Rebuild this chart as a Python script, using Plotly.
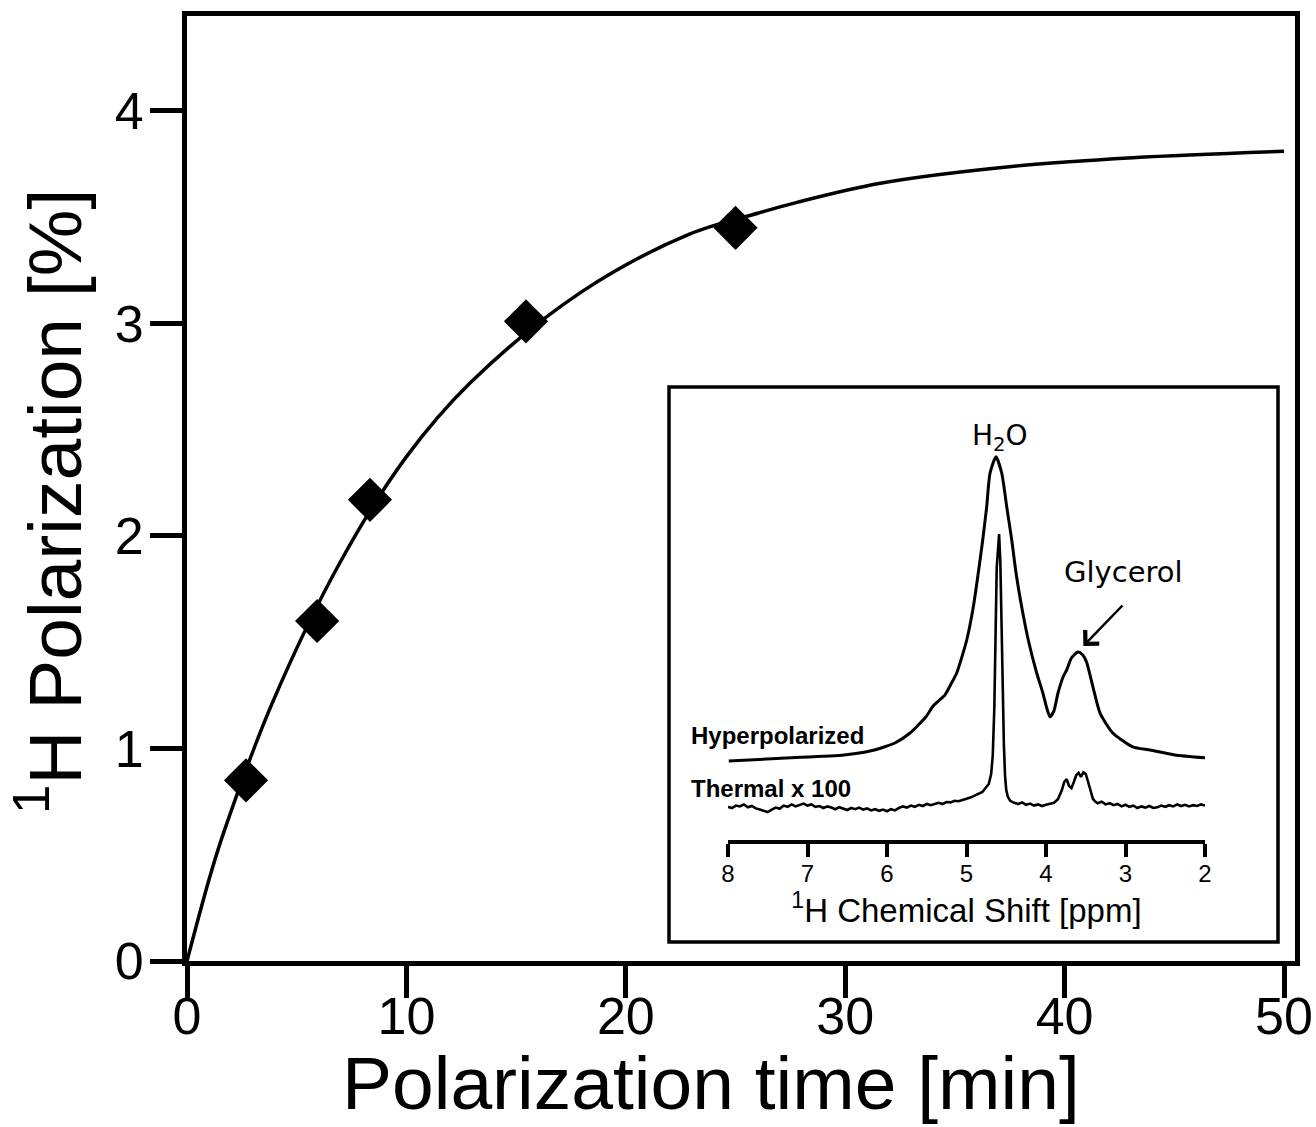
import plotly.graph_objects as go

# ---------------- main data ----------------
time_pts = [2.69, 5.93, 8.34, 15.45, 25.0]
pol_pts = [0.85, 1.60, 2.17, 3.01, 3.45]

fit_time = [0, 1.05, 1.69, 3.87, 7.0, 9.98, 12.9, 18.0, 22.9, 26.05, 27.8, 31.6, 37.7, 43.1, 50.0]
fit_pol = [0, 0.40, 0.61, 1.21, 1.88, 2.37, 2.72, 3.15, 3.42, 3.52, 3.57, 3.66, 3.74, 3.78, 3.81]

x_ticks = [0, 10, 20, 30, 40, 50]
y_ticks = [0, 1, 2, 3, 4]

# ---------------- inset data (ppm, a.u.) ----------------
hyper_ppm = [7.99, 7.27, 6.54, 6.20, 5.90, 5.71, 5.51, 5.42, 5.35, 5.27, 5.20, 5.123, 4.997, 4.914,
             4.852, 4.796, 4.746, 4.704, 4.629, 4.557, 4.494, 4.431, 4.377, 4.306, 4.223, 4.117,
             4.04, 3.991, 3.95, 3.90, 3.849, 3.78, 3.74, 3.68, 3.60, 3.54, 3.49, 3.41, 3.32, 3.16,
             2.91, 2.69, 2.38, 1.975]
hyper_int = [19.75, 20.5, 21.25, 22.3, 24.25, 26.75, 30.8, 33.5, 34.8, 36.3, 38.8, 41.75, 50.0, 58.3,
             66.75, 75.0, 83.3, 91.75, 95.8, 91.75, 83.3, 75.0, 66.75, 58.3, 50.0, 41.75,
             36.8, 33.0, 30.8, 32.3, 36.75, 41.0, 42.5, 45.5, 47.0, 46.3, 44.5, 38.3, 31.7, 26.75,
             23.3, 22.5, 21.25, 20.5]

thermal_ppm = [8.00, 7.95, 7.90, 7.85, 7.80, 7.75, 7.70, 7.65, 7.60, 7.55, 7.50, 7.45, 7.40, 7.35,
               7.30, 7.25, 7.20, 7.15, 7.10, 7.05, 7.00, 6.95, 6.90, 6.85, 6.80, 6.75, 6.70, 6.65,
               6.60, 6.55, 6.50, 6.45, 6.40, 6.35, 6.30, 6.25, 6.20, 6.15, 6.10, 6.05, 6.00, 5.95,
               5.90, 5.85, 5.80, 5.75, 5.70, 5.65, 5.60, 5.55, 5.50, 5.45, 5.40, 5.35, 5.30, 5.25,
               5.20, 5.15, 5.10, 5.05, 5.00, 4.95, 4.90, 4.85, 4.80, 4.76, 4.72, 4.69, 4.67, 4.65,
               4.635, 4.62, 4.59, 4.575, 4.56, 4.545, 4.53, 4.515, 4.50, 4.48, 4.45, 4.40, 4.35,
               4.30, 4.25, 4.20, 4.15, 4.10, 4.05, 4.00, 3.95, 3.90, 3.85, 3.80, 3.77, 3.74, 3.71,
               3.68, 3.65, 3.62, 3.59, 3.56, 3.53, 3.50, 3.47, 3.44, 3.41, 3.38, 3.35, 3.30, 3.25,
               3.20, 3.15, 3.10, 3.05, 3.00, 2.95, 2.90, 2.85, 2.80, 2.75, 2.70, 2.65, 2.60, 2.55,
               2.50, 2.45, 2.40, 2.35, 2.30, 2.25, 2.20, 2.15, 2.10, 2.05, 2.00]
thermal_int = [8.3, 8.0, 8.6, 8.4, 8.9, 8.2, 8.5, 7.9, 7.6, 7.2, 7.0, 7.6, 8.1, 7.8,
               8.6, 8.3, 8.9, 8.4, 8.7, 9.1, 8.6, 8.9, 8.3, 8.5, 8.0, 8.4, 8.1, 7.7,
               8.2, 7.9, 7.5, 8.0, 7.7, 8.1, 7.6, 7.9, 7.4, 7.7, 7.3, 7.6, 7.2, 7.7,
               7.4, 8.0, 8.4, 8.1, 8.6, 8.3, 8.8, 8.5, 9.0, 8.7, 9.1, 9.3, 9.0, 9.5,
               9.4, 9.8, 9.7, 10.1, 10.3, 10.6, 11.0, 11.4, 12.0, 13.0, 14.0, 16.5, 21.0, 33.0,
               50.0, 68.0, 76.5, 70.0, 55.0, 38.0, 24.0, 16.0, 12.5, 10.8, 9.8, 9.3, 9.0,
               9.4, 8.8, 9.1, 8.6, 8.9, 8.5, 8.8, 9.0, 9.3, 10.2, 12.5, 14.5, 15.2, 13.5,
               13.0, 14.5, 16.2, 16.8, 15.8, 16.9, 16.5, 14.5, 12.0, 10.3, 9.6, 9.2, 9.6, 8.9,
               9.2, 8.7, 9.0, 8.4, 8.8, 8.3, 8.6, 8.0, 8.4, 8.1, 8.5, 8.0, 8.2, 8.6,
               8.3, 8.7, 8.4, 8.9, 8.5, 8.8, 8.4, 8.7, 8.5, 8.9, 8.6]

ppm_ticks = [8, 7, 6, 5, 4, 3, 2]

FONT = "Liberation Sans, Arial, Helvetica, sans-serif"
HAND = "Comic Sans MS, DejaVu Sans, sans-serif"

fig = go.Figure()

# fit curve
fig.add_trace(go.Scatter(x=fit_time, y=fit_pol, mode="lines",
                         line=dict(color="black", width=3.5, shape="spline", smoothing=1.0),
                         showlegend=False, hoverinfo="skip"))
# data points
fig.add_trace(go.Scatter(x=time_pts, y=pol_pts, mode="markers",
                         marker=dict(symbol="diamond", size=34, color="black"),
                         showlegend=False))

# inset spectra
fig.add_trace(go.Scatter(x=hyper_ppm, y=hyper_int, mode="lines", xaxis="x2", yaxis="y2",
                         line=dict(color="black", width=3, shape="spline", smoothing=0.6),
                         showlegend=False))
fig.add_trace(go.Scatter(x=thermal_ppm, y=thermal_int, mode="lines", xaxis="x2", yaxis="y2",
                         line=dict(color="black", width=2.6),
                         showlegend=False))

W, H = 1316, 1127
L, R, T, B = 187, 21, 16, 166
pw = W - L - R
ph = H - T - B


def px(xp):
    return (xp - L) / pw


def py(yp):
    return (H - B - yp) / ph


fig.update_layout(
    width=W, height=H,
    margin=dict(l=L, r=R, t=T, b=B, pad=0, autoexpand=False),
    paper_bgcolor="white", plot_bgcolor="white",
    font=dict(family=FONT, color="black"),
    xaxis=dict(range=[0, 50.5], tickvals=x_ticks, ticks="outside", ticklen=32, tickwidth=5,
               tickcolor="black", showline=True, mirror=True, linewidth=5, linecolor="black",
               showgrid=False, zeroline=False, tickfont=dict(size=52, family=FONT),
               automargin=False, ticklabelstandoff=-26),
    yaxis=dict(range=[0, 4.447], tickvals=y_ticks, ticks="outside", ticklen=32, tickwidth=5,
               tickcolor="black", showline=True, mirror=True, linewidth=5, linecolor="black",
               showgrid=False, zeroline=False, tickfont=dict(size=52, family=FONT),
               automargin=False, ticklabelstandoff=-4),
    xaxis2=dict(domain=[px(728), px(1205)], range=[8, 2], anchor="y2",
                tickvals=ppm_ticks, ticks="outside", ticklen=13, tickwidth=4, tickcolor="black",
                showline=True, linewidth=4, linecolor="black", showgrid=False, zeroline=False,
                tickfont=dict(size=24, family=FONT), automargin=False, ticklabelstandoff=-4,
                title=dict(text="<sup>1</sup>H Chemical Shift [ppm]", font=dict(size=33, family=FONT),
                           standoff=0)),
    yaxis2=dict(domain=[py(840), py(400)], range=[0, 110], anchor="x2", visible=False,
                automargin=False),
)

# inset frame
fig.add_shape(type="rect", xref="paper", yref="paper", x0=px(669), x1=px(1278), y0=py(942), y1=py(387),
              line=dict(color="black", width=3.5), fillcolor="white", layer="below")

# axis titles
fig.add_annotation(xref="paper", yref="paper", x=px(711), y=py(1083), text="Polarization time [min]",
                   showarrow=False, font=dict(size=75, family=FONT), xanchor="center", yanchor="middle")
fig.add_annotation(xref="paper", yref="paper", x=px(49), y=py(502), text="<sup>1</sup>H Polarization [%]",
                   showarrow=False, textangle=-90, font=dict(size=75, family=FONT),
                   xanchor="center", yanchor="middle")

# inset labels
fig.add_annotation(xref="x2", yref="y2", x=4.58, y=100.75, text="H<sub>2</sub>O", showarrow=False,
                   font=dict(size=28, family=HAND))
fig.add_annotation(xref="x2", yref="y2", x=3.02, y=67, text="Glycerol", showarrow=False,
                   font=dict(size=29, family=HAND))
fig.add_annotation(xref="x2", yref="y2", x=3.53, y=48.5, axref="x2", ayref="y2", ax=3.02, ay=59,
                   text="", showarrow=True, arrowhead=4, arrowsize=1.5, arrowwidth=2.5, arrowcolor="black")
fig.add_annotation(xref="paper", yref="y2", x=px(689), y=26.25, text="<b>Hyperpolarized</b>", showarrow=False,
                   xanchor="left", font=dict(size=24, family=FONT))
fig.add_annotation(xref="paper", yref="y2", x=px(689), y=13, text="<b>Thermal x 100</b>", showarrow=False,
                   xanchor="left", font=dict(size=24, family=FONT))

fig.write_html("out.html")
